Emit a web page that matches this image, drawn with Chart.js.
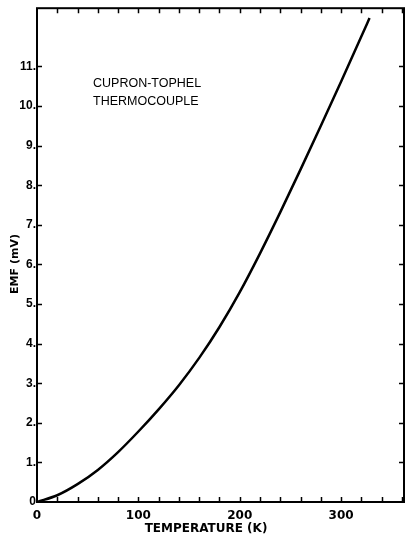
<!DOCTYPE html>
<html>
<head>
<meta charset="utf-8">
<script src="https://cdn.jsdelivr.net/npm/chart.js@4"></script>
<style>
  html, body { margin: 0; padding: 0; background: #fff; }
  canvas { display: block; }
</style>
</head>
<body>
<canvas id="chart" width="406" height="538"></canvas>
<script>
// EMF of the Cupron-Tophel couple against temperature
const temperatureK  = [0, 20, 40, 60, 80, 100, 120, 140, 160, 180, 200, 220, 240, 260, 280, 300, 320, 328];
const emfMillivolts = [0, 0.17, 0.45, 0.81, 1.26, 1.78, 2.34, 2.95, 3.64, 4.42, 5.30, 6.28, 7.32, 8.40, 9.50, 10.62, 11.76, 12.22];

const xTickValues = [0, 100, 200, 300];
const yTickValues = [0, 1, 2, 3, 4, 5, 6, 7, 8, 9, 10, 11];
const xMinorStep = 20;

const xTitle = 'TEMPERATURE (K)';
const yTitle = 'EMF (mV)';
const noteLines = ['CUPRON-TOPHEL', 'THERMOCOUPLE'];

// frame, inward tick marks, axis titles and the inset note
const framePlugin = {
  id: 'frame',
  afterDraw(chart) {
    const { ctx, chartArea: a, scales: { x, y } } = chart;
    ctx.save();
    ctx.strokeStyle = '#000';
    ctx.lineWidth = 2;
    ctx.strokeRect(a.left, a.top, a.right - a.left, a.bottom - a.top);

    ctx.lineWidth = 1.5;
    ctx.beginPath();
    for (let t = xMinorStep; t < x.max; t += xMinorStep) {
      const px = Math.round(x.getPixelForValue(t)) + 0.5;
      ctx.moveTo(px, a.bottom); ctx.lineTo(px, a.bottom - 5);
      ctx.moveTo(px, a.top);    ctx.lineTo(px, a.top + 5);
    }
    for (const v of yTickValues) {
      if (v === 0) continue;
      const py = Math.round(y.getPixelForValue(v)) + 0.5;
      ctx.moveTo(a.left, py);  ctx.lineTo(a.left + 5, py);
      ctx.moveTo(a.right, py); ctx.lineTo(a.right - 5, py);
    }
    ctx.stroke();

    ctx.fillStyle = '#000';
    ctx.font = 'bold 12px "DejaVu Sans"';
    ctx.textAlign = 'center';
    ctx.textBaseline = 'middle';
    ctx.fillText(xTitle, 206, 529);

    ctx.font = 'bold 11px "DejaVu Sans"';
    ctx.save();
    ctx.translate(15, 264);
    ctx.rotate(-Math.PI / 2);
    ctx.fillText(yTitle, 0, 0);
    ctx.restore();

    ctx.font = '12.5px "Liberation Sans"';
    ctx.textAlign = 'left';
    ctx.textBaseline = 'alphabetic';
    ctx.fillText(noteLines[0], 93, 87);
    ctx.fillText(noteLines[1], 93, 105);
    ctx.restore();
  }
};

new Chart(document.getElementById('chart'), {
  type: 'line',
  data: {
    datasets: [{
      data: temperatureK.map((t, i) => ({ x: t, y: emfMillivolts[i] })),
      borderColor: '#000',
      borderWidth: 2.5,
      pointRadius: 0,
      cubicInterpolationMode: 'monotone',
      fill: false
    }]
  },
  options: {
    responsive: false,
    animation: false,
    devicePixelRatio: 1,
    layout: { padding: { top: 8, right: 2, left: 0, bottom: 0 } },
    plugins: { legend: { display: false }, tooltip: { enabled: false } },
    scales: {
      x: {
        type: 'linear',
        min: 0,
        max: 362,
        afterFit: s => { s.height = 36; },
        afterBuildTicks: s => { s.ticks = xTickValues.map(v => ({ value: v })); },
        grid: { display: false, drawTicks: false },
        border: { display: false },
        ticks: {
          color: '#000',
          padding: 7,
          maxRotation: 0,
          font: { family: 'DejaVu Sans', weight: 'bold', size: 12 },
          callback: v => String(v)
        }
      },
      y: {
        type: 'linear',
        min: 0,
        max: 12.47,
        afterFit: s => { s.width = 37; },
        afterBuildTicks: s => { s.ticks = yTickValues.map(v => ({ value: v })); },
        grid: { display: false, drawTicks: false },
        border: { display: false },
        ticks: {
          color: '#000',
          padding: 1,
          font: { family: 'Liberation Sans', weight: 'bold', size: 12 },
          callback: v => (v === 0 ? '0' : v + '.')
        }
      }
    }
  },
  plugins: [framePlugin]
});
</script>
</body>
</html>
